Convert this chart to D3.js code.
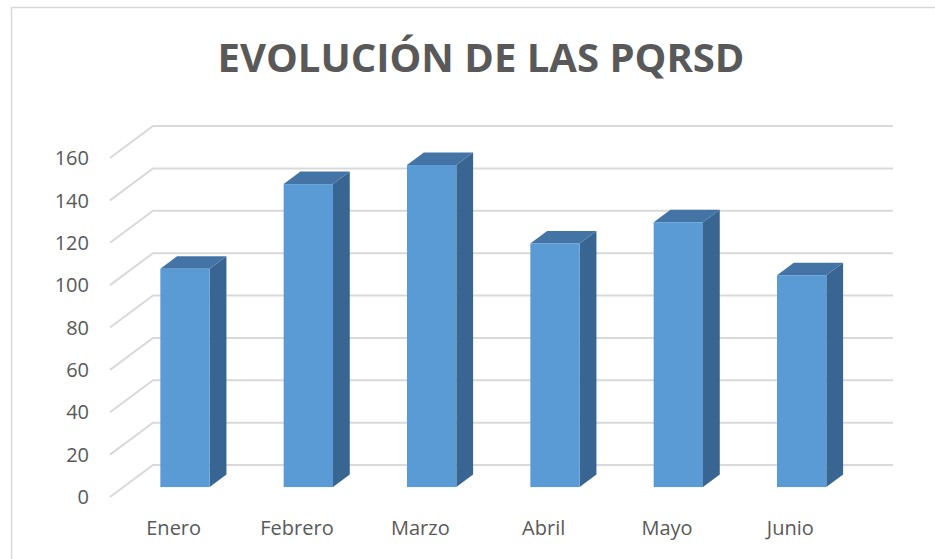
<!DOCTYPE html>
<html>
<head>
<meta charset="utf-8">
<script src="https://cdn.jsdelivr.net/npm/d3@7"></script>
<style>
  body { margin: 0; background: #fff; }
  text { font-family: "Open Sans", sans-serif; fill: #595959; }
</style>
</head>
<body>
<div id="chart"></div>
<script>
// Chart data
var months = ["Enero", "Febrero", "Marzo", "Abril", "Mayo", "Junio"];
var counts = [103, 143, 152, 115, 125, 100];
var yTicks = [0, 20, 40, 60, 80, 100, 120, 140, 160];

var svgWidth = 935;
var svgHeight = 559;

// depth of the 3D box (back wall offset)
var depthX = 43, depthY = -32;
// bar sits between these fractions of the depth
var t0 = 0.31, t1 = 0.70;

var svg = d3.select("#chart")
  .append("svg")
  .attr("width", svgWidth)
  .attr("height", svgHeight);

// outer chart border
svg.append("rect")
  .attr("x", 11.5).attr("y", 7.5)
  .attr("width", 1000).attr("height", 1000)
  .attr("fill", "none")
  .attr("stroke", "#d9d9d9")
  .attr("stroke-width", 1.5);

// Title
svg.append("text")
  .attr("x", 481)
  .attr("y", 72)
  .attr("text-anchor", "middle")
  .attr("font-size", "40px")
  .attr("font-weight", "bold")
  .attr("textLength", 527)
  .attr("lengthAdjust", "spacingAndGlyphs")
  .text("EVOLUCIÓN DE LAS PQRSD");

// Scales (front plane)
var xBand = d3.scaleBand()
  .domain(months)
  .range([110, 850])
  .paddingInner(0.6)
  .paddingOuter(0.3);

var xCat = d3.scaleBand().domain(months).range([110, 850]);

var yLinearScale = d3.scaleLinear()
  .domain([0, 160])
  .range([497, 158]);

// Gridlines: slanted on left wall, then flat across the back wall
var grid = svg.append("g");
yTicks.forEach(function(v) {
  var y = yLinearScale(v);
  grid.append("polyline")
    .attr("points", [[110, y], [110 + depthX, y + depthY], [893, y + depthY]].join(" "))
    .attr("fill", "none")
    .attr("stroke", "#d9d9d9")
    .attr("stroke-width", 2);
});

// Y axis labels
svg.append("g").selectAll("text")
  .data(yTicks)
  .enter()
  .append("text")
  .attr("x", 89)
  .attr("y", d => yLinearScale(d))
  .attr("dy", "0.36em")
  .attr("text-anchor", "end")
  .attr("font-size", "20px")
  .text(d => d);

// X category labels
svg.append("g").selectAll("text")
  .data(months)
  .enter()
  .append("text")
  .attr("x", d => xCat(d) + xCat.bandwidth() / 2 + 2)
  .attr("y", 535)
  .attr("text-anchor", "middle")
  .attr("font-size", "20px")
  .text(d => d);

// 3D bars
var bars = svg.append("g").selectAll("g")
  .data(months.map((m, i) => ({ month: m, value: counts[i] })))
  .enter()
  .append("g");

function pt(x, y, t) {
  return [x + t * depthX, y + t * depthY];
}

bars.each(function(d) {
  var g = d3.select(this);
  var xl = xBand(d.month), xr = xl + xBand.bandwidth();
  var yb = yLinearScale(0), yt = yLinearScale(d.value);
  // side face
  g.append("polygon")
    .attr("points", [pt(xr, yb, t0), pt(xr, yb, t1), pt(xr, yt, t1), pt(xr, yt, t0)].join(" "))
    .attr("fill", "#386591");
  // top face
  g.append("polygon")
    .attr("points", [pt(xl, yt, t0), pt(xl, yt, t1), pt(xr, yt, t1), pt(xr, yt, t0)].join(" "))
    .attr("fill", "#4474a6");
  // front face
  var f0 = pt(xl, yt, t0), f1 = pt(xr, yb, t0);
  g.append("rect")
    .attr("x", f0[0])
    .attr("y", f0[1])
    .attr("width", f1[0] - f0[0])
    .attr("height", f1[1] - f0[1])
    .attr("fill", "#5b9bd5");
});
</script>
</body>
</html>
